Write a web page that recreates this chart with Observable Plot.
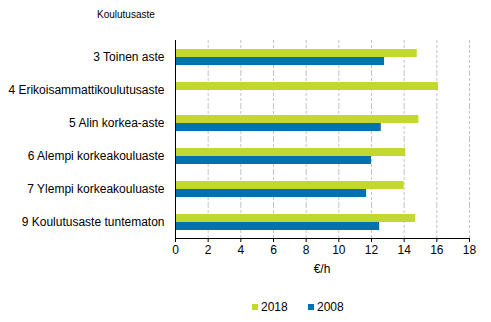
<!DOCTYPE html>
<html>
<head>
<meta charset="utf-8">
<script src="https://cdn.jsdelivr.net/npm/d3@7"></script>
<script src="https://cdn.jsdelivr.net/npm/@observablehq/plot@0.6"></script>
<style>
  body { margin: 0; font-family: "Liberation Sans", Arial, sans-serif; background: #fff; }
  #wrap { position: relative; width: 491px; height: 322px; overflow: hidden; }
  #title { position: absolute; left: 97px; top: 9px; font-size: 10px; line-height: 12px; color: #000; }
  #chart { position: absolute; left: 0; top: 28px; }
  #xlabel { position: absolute; left: 272px; width: 100px; text-align: center; top: 262px; font-size: 12px; line-height: 14px; color: #000; }
  #legend { position: absolute; top: 300px; left: 0; width: 491px; font-size: 12px; line-height: 14px; color: #000; }
  .item { position: absolute; top: 0; }
  .sw { display: inline-block; width: 6px; height: 6px; margin-right: 3px; vertical-align: 1px; }
</style>
</head>
<body>
<div id="wrap">
  <div id="title">Koulutusaste</div>
  <div id="chart"></div>
  <div id="xlabel"></div>
  <div id="legend"></div>
</div>
<script>
const categories = [
  "3 Toinen aste",
  "4 Erikoisammattikoulutusaste",
  "5 Alin korkea-aste",
  "6 Alempi korkeakouluaste",
  "7 Ylempi korkeakouluaste",
  "9 Koulutusaste tuntematon"
];
const series = ["2018", "2008"];
const values2018 = [14.8, 16.1, 14.9, 14.1, 14.0, 14.7];
const values2008 = [12.8, null, 12.6, 12.0, 11.7, 12.5];
const xTicks = [0, 2, 4, 6, 8, 10, 12, 14, 16, 18];
const xLabel = "€/h";
const colors = ["#c2d72f", "#0072b0"];

const data = [];
categories.forEach((c, i) => {
  if (values2018[i] != null) data.push({category: c, year: "2018", value: values2018[i]});
  if (values2008[i] != null) data.push({category: c, year: "2008", value: values2008[i]});
});

const chart = Plot.plot({
  width: 491,
  height: 250,
  marginTop: 10,
  marginBottom: 39,
  marginLeft: 175,
  marginRight: 22,
  style: {fontFamily: "'Liberation Sans', Arial, sans-serif", fontSize: "12px", color: "#000", background: "#fff"},
  x: {domain: [0, 18], ticks: xTicks, tickSize: 4, tickPadding: 3, label: null, line: true},
  y: {domain: series, paddingInner: 0, paddingOuter: 0.86, axis: null},
  fy: {domain: categories, padding: 0, label: null, tickSize: 0, tickPadding: 11},
  color: {domain: series, range: colors},
  marks: [
    Plot.ruleX(xTicks.filter(d => d > 0), {stroke: "#c4c4c4", strokeDasharray: "3,2"}),
    Plot.barX(data, {x: "value", y: "year", fy: "category", fill: "year"}),
    Plot.ruleX([0], {stroke: "#000"})
  ]
});
document.getElementById("chart").appendChild(chart);
document.getElementById("xlabel").textContent = xLabel;

const legend = document.getElementById("legend");
const legendX = [252, 308];
series.forEach((s, i) => {
  const item = document.createElement("span");
  item.className = "item";
  item.style.left = legendX[i] + "px";
  const sw = document.createElement("span");
  sw.className = "sw";
  sw.style.background = colors[i];
  item.appendChild(sw);
  item.appendChild(document.createTextNode(s));
  legend.appendChild(item);
});
</script>
</body>
</html>
